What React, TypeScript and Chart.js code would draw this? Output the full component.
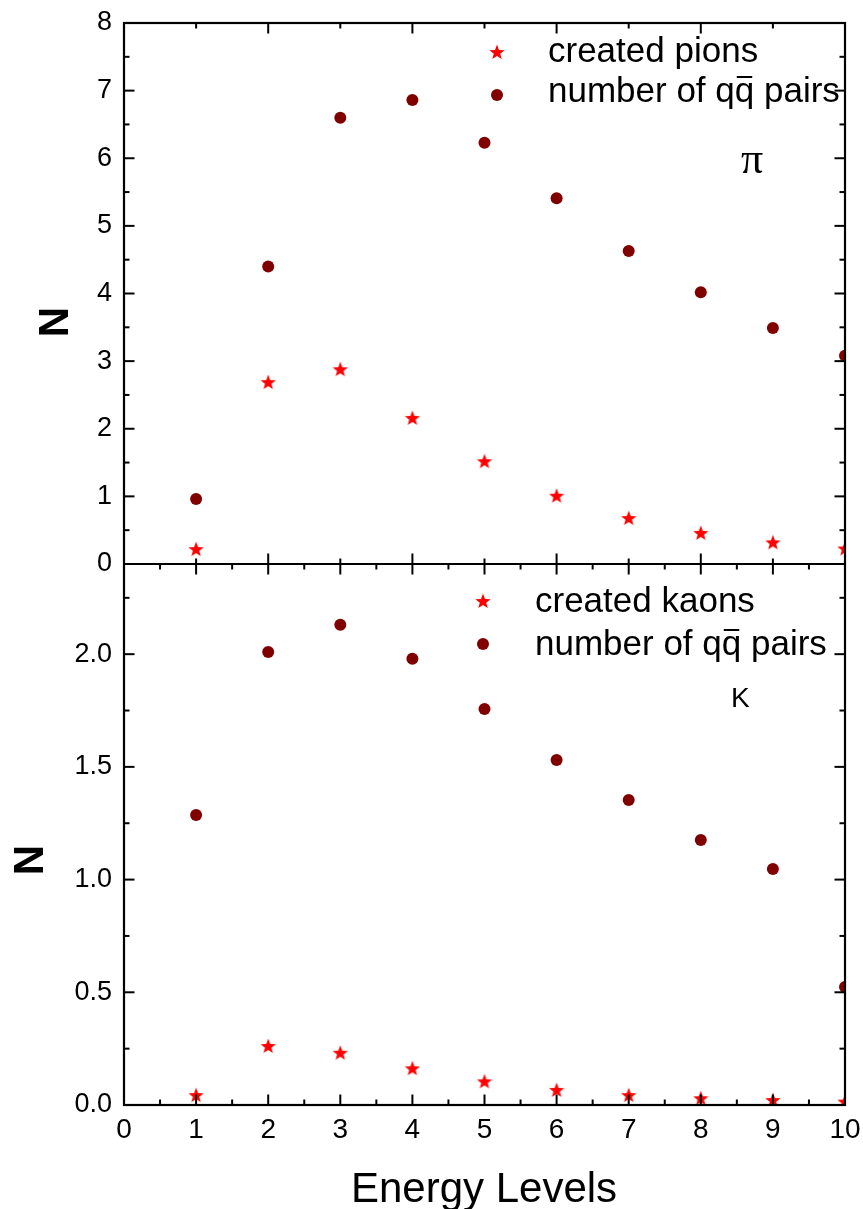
import React, { useEffect, useRef } from 'react';
import { Chart, registerables } from 'chart.js';

Chart.register(...registerables);

// ---- data ----
const energyLevels = [1, 2, 3, 4, 5, 6, 7, 8, 9, 10];
const createdPions = [0.22, 2.69, 2.88, 2.16, 1.52, 1.01, 0.68, 0.46, 0.32, 0.23];
const pionPairs = [0.96, 4.40, 6.60, 6.86, 6.23, 5.41, 4.63, 4.02, 3.49, 3.08];
const createdKaons = [0.044, 0.262, 0.232, 0.163, 0.105, 0.067, 0.044, 0.030, 0.022, 0.015];
const kaonPairs = [1.287, 2.01, 2.13, 1.98, 1.757, 1.53, 1.353, 1.176, 1.047, 0.523];
const xTickLabels = [0, 1, 2, 3, 4, 5, 6, 7, 8, 9, 10];
const topTickLabels = [0, 1, 2, 3, 4, 5, 6, 7, 8];
const bottomTickLabels = [0, 0.5, 1.0, 1.5, 2.0];

const SANS = '"Liberation Sans", Arial, sans-serif';
const STAR_COLOR = '#ff0000';
const DOT_COLOR = '#800000';
const TICK_FONT = 27;
const X_TICK_FONT = 28;
const LABEL_GAP = 12;

function makeStar(size: number, color: string) {
  const c = document.createElement('canvas');
  c.width = size;
  c.height = size;
  const g = c.getContext('2d')!;
  const cx = size / 2, cy = size / 2 + 0.6;
  const R = size / 2, r = R * 0.42;
  g.beginPath();
  for (let i = 0; i < 10; i++) {
    const ang = -Math.PI / 2 + (i * Math.PI) / 5;
    const rad = i % 2 === 0 ? R : r;
    const px = cx + rad * Math.cos(ang);
    const py = cy + rad * Math.sin(ang);
    if (i === 0) g.moveTo(px, py); else g.lineTo(px, py);
  }
  g.closePath();
  g.fillStyle = color;
  g.fill();
  return c;
}

const toPts = (ys: number[]) => energyLevels.map((x, i) => ({ x, y: ys[i] }));

const zeroPad = (s: any) => {
  s.paddingTop = 0;
  s.paddingBottom = 0;
  s.paddingLeft = 0;
  s.paddingRight = 0;
};

export default function App() {
  const ref = useRef<HTMLCanvasElement | null>(null);

  useEffect(() => {
    document.body.style.margin = '0';
    document.body.style.overflow = 'hidden';
    const canvas = ref.current!;
    const star = makeStar(16, STAR_COLOR);

    const framePlugin = {
      id: 'frame',
      afterDatasetsDraw(chart: any) {
        const { ctx, chartArea: a, scales } = chart;
        const xs = scales.x, yT = scales.yTop, yB = scales.yBot;
        const mid = yT.getPixelForValue(0);
        ctx.save();
        ctx.strokeStyle = '#000';
        ctx.lineWidth = 2;
        const seg = (x1: number, y1: number, x2: number, y2: number) => {
          ctx.beginPath();
          ctx.moveTo(x1, y1);
          ctx.lineTo(x2, y2);
          ctx.stroke();
        };
        const MAJ = 10.5, MIN = 5.5;
        for (let v = 1; v <= 9; v++) {
          const px = xs.getPixelForValue(v);
          const len = v % 2 === 0 ? MAJ : MIN;
          seg(px, a.top, px, a.top + len);
          seg(px, mid, px, mid - len);
        }
        for (let k = 1; k <= 19; k++) {
          const v = k * 0.5;
          const px = xs.getPixelForValue(v);
          const len = k % 2 === 0 ? MAJ : MIN;
          seg(px, mid, px, mid + len);
          seg(px, a.bottom, px, a.bottom - len);
        }
        for (let k = 1; k <= 15; k++) {
          const v = k * 0.5;
          const py = yT.getPixelForValue(v);
          const len = k % 2 === 0 ? MAJ : MIN;
          seg(a.left, py, a.left + len, py);
          seg(a.right, py, a.right - len, py);
        }
        for (let k = 1; k <= 9; k++) {
          const v = k * 0.25;
          const py = yB.getPixelForValue(v);
          const len = k % 2 === 0 ? MAJ : MIN;
          seg(a.left, py, a.left + len, py);
          seg(a.right, py, a.right - len, py);
        }
        ctx.lineWidth = 2.2;
        ctx.strokeRect(a.left, a.top, a.right - a.left, a.bottom - a.top);
        seg(a.left, mid, a.right, mid);
        ctx.restore();
      },
      afterDraw(chart: any) {
        const { ctx } = chart;
        ctx.save();
        ctx.fillStyle = '#000';
        ctx.textBaseline = 'alphabetic';

        const dot = (x: number, y: number) => {
          ctx.beginPath();
          ctx.arc(x, y, 6, 0, Math.PI * 2);
          ctx.fillStyle = DOT_COLOR;
          ctx.fill();
          ctx.fillStyle = '#000';
        };
        const pairsText = (x: number, base: number) => {
          ctx.font = `35px ${SANS}`;
          ctx.textAlign = 'left';
          const a1 = 'number of q';
          ctx.fillText(a1, x, base);
          let cx = x + ctx.measureText(a1).width;
          ctx.fillText('q', cx, base);
          const qw = ctx.measureText('q').width;
          ctx.fillRect(cx + 2, base - 26, qw - 4, 2);
          cx += qw;
          ctx.fillText(' pairs', cx, base);
        };

        ctx.drawImage(star, 497 - 8, 52 - 8);
        ctx.font = `35px ${SANS}`;
        ctx.textAlign = 'left';
        ctx.fillText('created pions', 548, 62);
        dot(497, 95);
        pairsText(548, 102);
        ctx.font = `44px "Liberation Serif", "DejaVu Serif", serif`;
        ctx.textAlign = 'center';
        ctx.fillText('\u03C0', 752, 173);

        ctx.drawImage(star, 483 - 8, 601 - 8);
        ctx.font = `35px ${SANS}`;
        ctx.textAlign = 'left';
        ctx.fillText('created kaons', 535, 612);
        dot(483, 644);
        pairsText(535, 655);
        ctx.font = `28px ${SANS}`;
        ctx.textAlign = 'left';
        ctx.fillText('K', 731, 707);

        ctx.font = `42px ${SANS}`;
        ctx.textAlign = 'center';
        ctx.fillText('Energy Levels', 484, 1202);

        ctx.font = `bold 42px ${SANS}`;
        ctx.textBaseline = 'middle';
        ctx.save();
        ctx.translate(56, 322);
        ctx.rotate(-Math.PI / 2);
        ctx.fillText('N', 0, 0);
        ctx.restore();
        ctx.save();
        ctx.translate(31, 860);
        ctx.rotate(-Math.PI / 2);
        ctx.fillText('N', 0, 0);
        ctx.restore();
        ctx.restore();
      },
    };

    const yAxisBase = (min: number, max: number, labels: number[], fmt: (v: number) => string, widest: number) => ({
      type: 'linear',
      position: 'left',
      min,
      max,
      grid: { display: false, drawTicks: false },
      border: { display: false },
      afterFit: (s: any) => { s.width = 0; zeroPad(s); },
      afterBuildTicks: (s: any) => { s.ticks = labels.map((v) => ({ value: v })); },
      ticks: {
        autoSkip: false,
        mirror: true,
        crossAlign: 'far',
        padding: -LABEL_GAP - widest,
        color: '#000',
        font: { family: SANS, size: TICK_FONT },
        callback: (v: any) => fmt(Number(v)),
      },
    });

    const chart = new Chart(canvas, {
      type: 'scatter',
      data: {
        datasets: [
          {
            label: 'created pions',
            data: toPts(createdPions),
            yAxisID: 'yTop',
            pointStyle: star as any,
            pointRadius: 8,
            backgroundColor: STAR_COLOR,
            borderColor: STAR_COLOR,
            clip: 0,
          },
          {
            label: 'number of qq pairs',
            data: toPts(pionPairs),
            yAxisID: 'yTop',
            pointStyle: 'circle',
            pointRadius: 6,
            borderWidth: 0,
            backgroundColor: DOT_COLOR,
            borderColor: DOT_COLOR,
            clip: 0,
          },
          {
            label: 'created kaons',
            data: toPts(createdKaons),
            yAxisID: 'yBot',
            pointStyle: star as any,
            pointRadius: 8,
            backgroundColor: STAR_COLOR,
            borderColor: STAR_COLOR,
            clip: 0,
          },
          {
            label: 'number of qq pairs (K)',
            data: toPts(kaonPairs),
            yAxisID: 'yBot',
            pointStyle: 'circle',
            pointRadius: 6,
            borderWidth: 0,
            backgroundColor: DOT_COLOR,
            borderColor: DOT_COLOR,
            clip: 0,
          },
        ],
      },
      plugins: [framePlugin],
      options: {
        responsive: false,
        animation: false,
        devicePixelRatio: 1,
        layout: { padding: { left: 124, right: 18, top: 23, bottom: 44 } },
        plugins: { legend: { display: false }, tooltip: { enabled: false } },
        events: [],
        scales: {
          x: {
            type: 'linear',
            position: 'bottom',
            min: 0,
            max: 10,
            grid: { display: false, drawTicks: false },
            border: { display: false },
            afterFit: (s: any) => { s.height = 60; zeroPad(s); },
            afterBuildTicks: (s: any) => { s.ticks = xTickLabels.map((v) => ({ value: v })); },
            ticks: {
              autoSkip: false,
              maxRotation: 0,
              padding: 8,
              color: '#000',
              font: { family: SANS, size: X_TICK_FONT },
              callback: (v: any) => String(v),
            },
          },
          yTop: yAxisBase(-8, 8, topTickLabels, (v) => String(v), 15.0),
          yBot: yAxisBase(0, 4.8, bottomTickLabels, (v) => v.toFixed(1), 37.5),
        },
      } as any,
    });
    return () => chart.destroy();
  }, []);

  return (
    <div style={{ position: 'absolute', left: 0, top: 0, width: 863, height: 1209, background: '#fff' }}>
      <canvas ref={ref} width={863} height={1209} style={{ width: 863, height: 1209, display: 'block' }} />
    </div>
  );
}
